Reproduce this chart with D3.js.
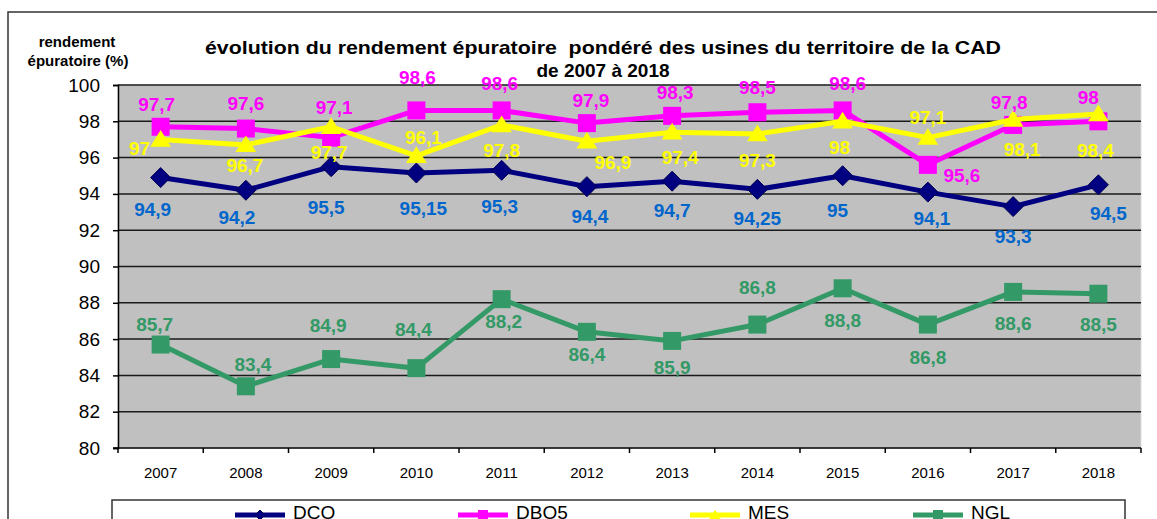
<!DOCTYPE html>
<html>
<head>
<meta charset="utf-8">
<script src="https://cdn.jsdelivr.net/npm/d3@7"></script>
<style>
  body { margin: 0; background: #fff; }
  svg { display: block; font-family: Arial, "Liberation Sans", sans-serif; }
</style>
</head>
<body>
<svg id="svg1" width="1157" height="519"></svg>
<script>
// data
var years = ["2007","2008","2009","2010","2011","2012","2013","2014","2015","2016","2017","2018"];
var dco  = [94.9, 94.2, 95.5, 95.15, 95.3, 94.4, 94.7, 94.25, 95, 94.1, 93.3, 94.5];
var dbo5 = [97.7, 97.6, 97.1, 98.6, 98.6, 97.9, 98.3, 98.5, 98.6, 95.6, 97.8, 98];
var mes  = [97, 96.7, 97.7, 96.1, 97.8, 96.9, 97.4, 97.3, 98, 97.1, 98.1, 98.4];
var ngl  = [85.7, 83.4, 84.9, 84.4, 88.2, 86.4, 85.9, 86.8, 88.8, 86.8, 88.6, 88.5];
var yTicks = [80, 82, 84, 86, 88, 90, 92, 94, 96, 98, 100];

// where each data label sits relative to its point (px), like the manual placement in the original
var offDCO  = [[-8,32],[-9,27],[-5,40],[7,35],[-2,36],[3,30],[0,29],[0,29],[-5,34],[4,26],[0,30],[10,28]];
var offDBO5 = [[-4,-23],[0,-25],[3,-30],[1,-33],[-2,-27],[4,-23],[3,-24],[0,-25],[5,-27],[34,10],[-4,-23],[-10,-24]];
var offMES  = [[-21,9],[-1,20],[-2,25],[7,-19],[0,25],[26,21],[8,25],[0,26],[-3,26],[0,-20],[9,30],[-3,36]];
var offNGL  = [[-6,-20],[7,-22],[-3,-34],[-3,-39],[2,22],[0,22],[0,26],[0,-37],[0,32],[0,33],[0,31],[0,30]];

var series = [
  {name: "DCO",  values: dco,  line: "#000080", label: "#0066CC", marker: "diamond",  off: offDCO},
  {name: "DBO5", values: dbo5, line: "#FF00FF", label: "#FF00FF", marker: "square",   off: offDBO5},
  {name: "MES",  values: mes,  line: "#FFFF00", label: "#FFFF00", marker: "triangle", off: offMES},
  {name: "NGL",  values: ngl,  line: "#339966", label: "#339966", marker: "square",   off: offNGL}
];

var svg = d3.select('#svg1');

var plotLeft = 118, plotRight = 1141, plotTop = 85, plotBottom = 448;

var x = d3.scaleBand().domain(years).range([plotLeft, plotRight]).padding(0);
var y = d3.scaleLinear().domain([80, 100]).range([plotBottom, plotTop]);
function cx(i) { return x(years[i]) + x.bandwidth() / 2; }

// outer frame
svg.append('rect')
    .attr('x', 8).attr('y', 12).attr('width', 1165).attr('height', 530)
    .attr('fill', 'none').attr('stroke', '#333').attr('stroke-width', 1.5);

// plot background
svg.append('rect')
    .attr('x', plotLeft).attr('y', plotTop).attr('width', plotRight - plotLeft).attr('height', plotBottom - plotTop)
    .attr('fill', '#C0C0C0').attr('stroke', '#dcdcdc').attr('stroke-width', 1);

// gridlines
svg.append('g').selectAll('line')
    .data(yTicks.filter(function(d){ return d > 80; }))
    .enter().append('line')
    .attr('x1', plotLeft).attr('x2', plotRight)
    .attr('y1', function(d){ return y(d); }).attr('y2', function(d){ return y(d); })
    .attr('stroke', '#1a1a1a').attr('stroke-width', 1.5);

// y axis
var yAxis = svg.append('g')
    .attr('transform', 'translate(' + plotLeft + ',0)')
    .call(d3.axisLeft(y).tickValues(yTicks).tickSize(5).tickPadding(13).tickFormat(d3.format('d')));
yAxis.select('.domain').attr('stroke', '#000').attr('stroke-width', 1.5);
yAxis.selectAll('.tick line').attr('stroke', '#000').attr('stroke-width', 1.5);
yAxis.selectAll('.tick text').attr('font-size', 19).attr('fill', '#000')
    .attr('font-family', 'Arial, "Liberation Sans", sans-serif');

// x axis: labels at band centres, ticks at band edges
var xAxis = svg.append('g')
    .attr('transform', 'translate(0,' + plotBottom + ')')
    .call(d3.axisBottom(x).tickSize(0).tickPadding(19));
xAxis.select('.domain').remove();
xAxis.selectAll('.tick text').attr('font-size', 15).attr('fill', '#000')
    .attr('font-family', 'Arial, "Liberation Sans", sans-serif');
svg.append('line')
    .attr('x1', plotLeft - 5).attr('x2', plotRight).attr('y1', plotBottom).attr('y2', plotBottom)
    .attr('stroke', '#000').attr('stroke-width', 1.5);
svg.append('g').selectAll('line')
    .data(years.concat(['end']))
    .enter().append('line')
    .attr('x1', function(d){ return d == 'end' ? plotRight : x(d); })
    .attr('x2', function(d){ return d == 'end' ? plotRight : x(d); })
    .attr('y1', plotBottom).attr('y2', plotBottom + 5)
    .attr('stroke', '#000').attr('stroke-width', 1.5);

// markers
function drawMarker(g, type, color, s) {
    if (type == 'diamond') {
        g.append('path').attr('d', 'M0,' + (-s) + 'L' + s + ',0L0,' + s + 'L' + (-s) + ',0Z')
            .attr('fill', color).attr('stroke', '#000050').attr('stroke-width', 1);
    } else if (type == 'square') {
        g.append('rect').attr('x', -s).attr('y', -s).attr('width', 2 * s).attr('height', 2 * s)
            .attr('fill', color);
    } else {
        g.append('path').attr('d', 'M0,' + (-s * 1.05) + 'L' + (s * 1.15) + ',' + (s * 0.8) + 'L' + (-s * 1.15) + ',' + (s * 0.8) + 'Z')
            .attr('fill', color);
    }
}

var line = d3.line()
    .x(function(d, i){ return cx(i); })
    .y(function(d){ return y(d); });

series.forEach(function(s) {
    var g = svg.append('g');
    g.append('path')
        .datum(s.values)
        .attr('d', line)
        .attr('fill', 'none')
        .attr('stroke', s.line)
        .attr('stroke-width', 5)
        .attr('stroke-linejoin', 'round');
    s.values.forEach(function(v, i) {
        var m = g.append('g').attr('transform', 'translate(' + cx(i) + ',' + y(v) + ')');
        drawMarker(m, s.marker, s.line, s.marker == 'diamond' ? 10 : 9);
    });
});

// data labels on top
series.forEach(function(s) {
    svg.append('g').selectAll('text')
        .data(s.values)
        .enter().append('text')
        .attr('x', function(d, i){ return cx(i) + s.off[i][0]; })
        .attr('y', function(d, i){ return y(d) + s.off[i][1]; })
        .attr('dy', '0.36em')
        .attr('text-anchor', 'middle')
        .attr('font-size', 19)
        .attr('font-weight', 'bold')
        .attr('fill', s.label)
        .text(function(d){ return String(d).replace('.', ','); });
});

// titles
svg.append('text').attr('x', 603).attr('y', 54).attr('text-anchor', 'middle')
    .attr('font-size', 19).attr('font-weight', 'bold')
    .attr('textLength', 796).attr('lengthAdjust', 'spacingAndGlyphs')
    .style('white-space', 'pre')
    .text('évolution du rendement épuratoire  pondéré des usines du territoire de la CAD');
svg.append('text').attr('x', 603).attr('y', 77).attr('text-anchor', 'middle')
    .attr('font-size', 19).attr('font-weight', 'bold')
    .text('de 2007 à 2018');

svg.append('text').attr('x', 77).attr('y', 47).attr('text-anchor', 'middle')
    .attr('font-size', 15).attr('font-weight', 'bold').text('rendement');
svg.append('text').attr('x', 78).attr('y', 66).attr('text-anchor', 'middle')
    .attr('font-size', 15).attr('font-weight', 'bold').text('épuratoire (%)');

// legend
svg.append('rect')
    .attr('x', 112).attr('y', 500).attr('width', 1013).attr('height', 40)
    .attr('fill', '#fff').attr('stroke', '#333').attr('stroke-width', 1.5);
var legendX = [235, 458, 690, 913];
series.forEach(function(s, i) {
    var g = svg.append('g').attr('transform', 'translate(' + legendX[i] + ',515)');
    g.append('line').attr('x1', 0).attr('x2', 50).attr('y1', 0).attr('y2', 0)
        .attr('stroke', s.line).attr('stroke-width', 5);
    var m = g.append('g').attr('transform', 'translate(25,0)');
    drawMarker(m, s.marker, s.line, 5);
    g.append('text').attr('x', 58).attr('y', 4).attr('font-size', 19).attr('fill', '#000').text(s.name);
});
</script>
</body>
</html>
